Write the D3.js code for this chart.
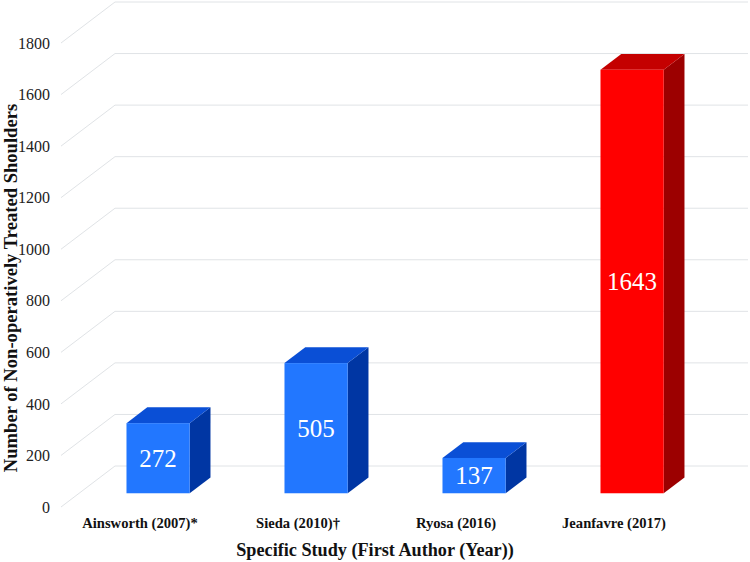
<!DOCTYPE html>
<html><head><meta charset="utf-8">
<script src="https://cdn.jsdelivr.net/npm/d3@7"></script>
<style>body{margin:0;background:#fff}svg{display:block}</style>
</head><body>
<svg id="c" width="750" height="562"></svg>
<script>
const categories = ["Ainsworth (2007)*", "Sieda (2010)†", "Ryosa (2016)", "Jeanfavre (2017)"];
const values = [272, 505, 137, 1643];
const highlight = [false, false, false, true];
const yTicks = [0, 200, 400, 600, 800, 1000, 1200, 1400, 1600, 1800];
const xTitle = "Specific Study (First Author (Year))";
const yTitle = "Number of Non-operatively Treated Shoulders";

const svg = d3.select("#c");
const FONT = "'Liberation Serif', 'Times New Roman', Times, serif";
const x0 = 61, x1 = 693, yZero = 507, yTop = 43;
const DX = 54, DY = -41;           // full depth offset
const f0 = 0.335, f1 = 0.72;        // bar depth fractions

const x = d3.scaleBand().domain(categories).range([x0, x1]).paddingInner(0.6).paddingOuter(0.3);
const y = d3.scaleLinear().domain([0, 1800]).range([yZero, yTop]);

const colors = {
  blue: {front: "#2277ff", top: "#0a4fd6", side: "#0036a3"},
  red: {front: "#ff0000", top: "#c40000", side: "#9c0000"}
};

// grid
const g = svg.append("g");
yTicks.forEach(t => {
  const yy = y(t);
  g.append("path")
    .attr("d", `M${x0},${yy} L${x0 + DX},${yy + DY} L${x1 + DX + 1},${yy + DY}`)
    .attr("fill", "none").attr("stroke", "#e0e3e6").attr("stroke-width", 1);
});

// y tick labels via axis
const yAxis = svg.append("g").attr("transform", `translate(${x0 - 8},0)`)
  .call(d3.axisLeft(y).tickValues(yTicks).tickSize(0).tickPadding(3).tickFormat(d3.format("d")));
yAxis.select(".domain").remove();
yAxis.selectAll("text").attr("font-family", FONT)
  .attr("font-size", 16).attr("fill", "#222");

// bars
const bars = svg.append("g");
categories.forEach((c, i) => {
  const v = values[i];
  const col = highlight[i] ? colors.red : colors.blue;
  const bx = x(c) + f0 * DX;
  const bw = x.bandwidth();
  const by0 = y(0) + f0 * DY;
  const byT = y(v) + f0 * DY;
  const ddx = (f1 - f0) * DX, ddy = (f1 - f0) * DY;
  bars.append("path").attr("d",
    `M${bx + bw},${byT} L${bx + bw + ddx},${byT + ddy} L${bx + bw + ddx},${by0 + ddy} L${bx + bw},${by0} Z`)
    .attr("fill", col.side);
  bars.append("path").attr("d",
    `M${bx},${byT} L${bx + ddx},${byT + ddy} L${bx + bw + ddx},${byT + ddy} L${bx + bw},${byT} Z`)
    .attr("fill", col.top);
  bars.append("rect").attr("x", bx).attr("y", byT).attr("width", bw).attr("height", by0 - byT)
    .attr("fill", col.front);
  bars.append("text").attr("x", bx + bw / 2).attr("y", (byT + by0) / 2 + 3)
    .attr("text-anchor", "middle").attr("dominant-baseline", "middle")
    .attr("font-family", FONT)
    .attr("font-size", 25).attr("fill", "#fff").text(v);
});

// x labels
const xAxis = svg.append("g").attr("transform", `translate(0,${yZero + 11})`)
  .call(d3.axisBottom(x).tickSize(0).tickPadding(0));
xAxis.select(".domain").remove();
xAxis.selectAll("text").attr("font-family", FONT)
  .attr("font-size", 14.6).attr("font-weight", "bold").attr("fill", "#111");

// titles
svg.append("text").attr("x", 375).attr("y", 556).attr("text-anchor", "middle")
  .attr("font-family", FONT)
  .attr("font-size", 18.2).attr("font-weight", "bold").attr("fill", "#111").text(xTitle);
svg.append("text").attr("transform", "translate(17,288) rotate(-90)").attr("text-anchor", "middle")
  .attr("font-family", FONT)
  .attr("font-size", 18.6).attr("font-weight", "bold").attr("fill", "#111").text(yTitle);
</script>
</body></html>
